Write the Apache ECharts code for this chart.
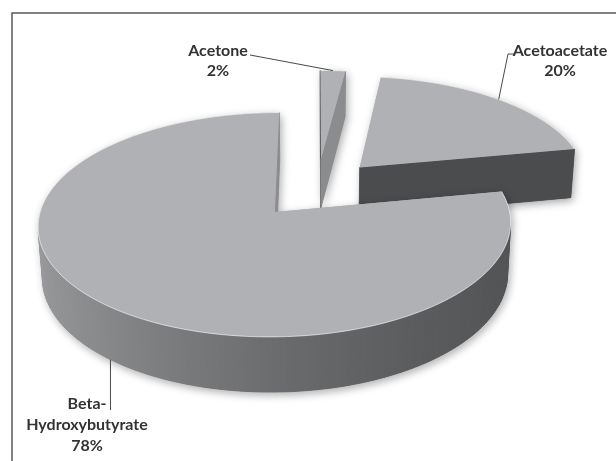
<!DOCTYPE html>
<html><head><meta charset="utf-8">
<script src="https://cdn.jsdelivr.net/npm/echarts@6/dist/echarts.min.js"></script>
<style>html,body{margin:0;padding:0;background:#fff}#c{width:616px;height:461px}</style>
</head><body><div id="c"></div>
<script>
// ---- data ----
const categories = ['Acetone', 'Acetoacetate', 'Beta-\nHydroxybutyrate'];
const values = [2, 20, 78];

// ---- view / style (not data) ----
const total = values.reduce((a, b) => a + b, 0);
const VIEW = { F: 1805, D: 8, phi: 29 * Math.PI / 180, H: 0.25, cx: 316.8, cy: 238.7, explode: 0.28 };
const LABELS = [
  { x: 218, y: 61, lh: 20, end: (a) => [[250, 55]] , anchorTop: true },
  { x: 560, y: 61, lh: 20, end: (a) => [[508, 54], [514, 54]], anchorTop: true },
  { x: 87, y: 425, lh: 21, end: (a) => [[a[0], 410]], anchorTop: false }
];
const TOP_COLOR = 'rgb(176,177,180)';

function proj(X, Y, Z) {
  const s = Math.sin(VIEW.phi), c = Math.cos(VIEW.phi);
  const v = Y * s + Z * c;
  const d = VIEW.D + Y * c - Z * s;
  return [VIEW.cx + VIEW.F * X / d, VIEW.cy - VIEW.F * v / d];
}
function area(p) {
  let a = 0;
  for (let i = 0; i < p.length; i++) {
    const q = p[(i + 1) % p.length];
    a += p[i][0] * q[1] - q[0] * p[i][1];
  }
  return a / 2;
}
function grey(b, t) { b = Math.max(40, Math.min(200, Math.round(b))); return 'rgb(' + b + ',' + (b + 1) + ',' + (b + 3) + ')'; }
function wallColor(nx) { return grey(108 - 35 * nx + 10 * nx * nx); }
function radialColor(nx) { return grey(60 + 80 * nx); }

function renderItem(params, api) {
  const i = params.dataIndex;
  let cum = 0;
  for (let k = 0; k < i; k++) cum += values[k];
  const a0 = cum / total * 2 * Math.PI;
  const a1 = (cum + api.value(0)) / total * 2 * Math.PI;
  const am = (a0 + a1) / 2;
  const ox = VIEW.explode * Math.sin(am), oy = VIEW.explode * Math.cos(am);
  const n = Math.max(2, Math.ceil((a1 - a0) / (1.5 * Math.PI / 180)));
  const topArc = [], botArc = [];
  for (let j = 0; j <= n; j++) {
    const t = a0 + (a1 - a0) * j / n;
    const X = ox + Math.sin(t), Y = oy + Math.cos(t);
    topArc.push(proj(X, Y, VIEW.H));
    botArc.push(proj(X, Y, 0));
  }
  const apexT = proj(ox, oy, VIEW.H), apexB = proj(ox, oy, 0);
  const faces = [];
  const sf = [apexT, topArc[0], botArc[0], apexB];
  if (area(sf) < 0) faces.push({ p: sf, c: radialColor(-Math.cos(a0)) });
  const ef = [apexT, topArc[n], botArc[n], apexB];
  if (area(ef) > 0) faces.push({ p: ef, c: radialColor(Math.cos(a1)) });
  for (let j = 0; j < n; j++) {
    const q = [topArc[j], topArc[j + 1], botArc[j + 1], botArc[j]];
    if (area(q) < 0) {
      const tm = a0 + (a1 - a0) * (j + 0.5) / n;
      faces.push({ p: q, c: wallColor(Math.sin(tm)), wall: true });
    }
  }
  faces.push({ p: [apexT].concat(topArc), c: TOP_COLOR, top: true });

  const children = [];
  faces.forEach(f => children.push({
    type: 'polygon', shape: { points: f.p },
    style: { fill: f.c, shadowBlur: 9, shadowColor: 'rgba(0,0,0,0.35)', shadowOffsetX: 2, shadowOffsetY: 3 }
  }));
  faces.forEach(f => children.push({
    type: 'polygon', shape: { points: f.p },
    style: { fill: f.c, stroke: f.top ? null : f.c, lineWidth: f.top ? 0 : 0.8 }
  }));
  children.push({ type: 'polyline', shape: { points: topArc },
    style: { stroke: 'rgba(255,255,255,0.6)', lineWidth: 1, fill: null } });

  // label + leader
  const L = LABELS[i];
  const t = am;
  const X = ox + Math.sin(t), Y = oy + Math.cos(t);
  const anchor = proj(X, Y, L.anchorTop ? VIEW.H : 0);
  children.push({ type: 'polyline', shape: { points: [anchor].concat(L.end(anchor)) },
    style: { stroke: '#4a4a4a', lineWidth: 1, fill: null } });
  const pct = Math.round(api.value(0) / total * 100) + '%';
  children.push({ type: 'text', style: {
    text: categories[i] + '\n' + pct, x: L.x, y: L.y, fill: '#333',
    font: 'bold 16px Lato', align: 'center', verticalAlign: 'middle', lineHeight: L.lh
  }});
  return { type: 'group', children: children };
}

const chart = echarts.init(document.getElementById('c'), null, { renderer: 'canvas' });
chart.setOption({
  backgroundColor: '#fff',
  animation: false,
  graphic: [{ type: 'rect', shape: { x: 12, y: 13, width: 640, height: 480 },
    style: { fill: null, stroke: '#5a5a5a', lineWidth: 1.5 }, z: 10 }],
  series: [{
    type: 'custom', coordinateSystem: 'none', silent: true,
    renderItem: renderItem,
    data: values.map((v, i) => ({ name: categories[i], value: v }))
  }]
});
</script></body></html>
